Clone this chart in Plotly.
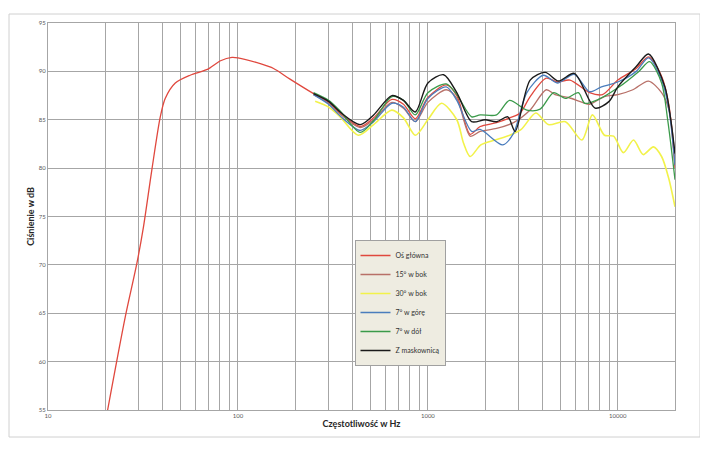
import plotly.graph_objects as go

# ---------------- data ----------------
series_names = ["Oś główna", "15° w bok", "30° w bok", "7° w górę", "7° w dół", "Z maskownicą"]

freq_main = [20.6, 25.5, 29.4, 31.8, 35.2, 39, 41.4, 46.8, 56, 69, 81, 93, 100, 131, 154, 188, 250,
             300, 345, 440, 518, 646, 744, 858, 1000, 1250, 1420, 1670, 1885, 2300, 2700, 3060, 3455,
             4200, 4800, 5600, 7100, 8300, 10000, 12500, 14500, 17000, 18600, 20000]
db_main = [55, 64.6, 70.2, 73.9, 79.8, 85.3, 87.2, 88.8, 89.6, 90.2, 91.1, 91.45, 91.4, 90.8, 90.3, 89.2, 87.7,
           86.8, 85.7, 84.3, 85.2, 87.1, 86.6, 85.1, 87.3, 88.6, 87.5, 83.5, 84.3, 84.7, 85.2, 85.7, 87.4,
           89.3, 88.9, 89.1, 87.8, 87.6, 89.1, 90.3, 91.5, 89.5, 86.4, 80.0]

freq_15 = [250, 300, 345, 440, 518, 646, 744, 858, 1000, 1250, 1420, 1670, 1885, 2300, 2825, 3455,
           4200, 4670, 5500, 6500, 7100, 8500, 10000, 12000, 14500, 17000, 18600, 20000]
db_15 = [87.6, 86.7, 85.6, 84.2, 85.0, 86.8, 86.2, 84.8, 86.8, 88.1, 87.2, 83.3, 83.8, 84.1, 84.7, 86.0,
         88.1, 87.6, 87.3, 86.8, 86.6, 87.4, 87.6, 88.1, 89.0, 87.8, 86.0, 81.0]

freq_30 = [255, 300, 345, 430, 518, 646, 744, 860, 1000, 1180, 1420, 1540, 1670, 1900, 2250, 2700,
           3100, 3700, 4300, 5300, 6470, 7350, 8500, 9500, 10700, 12100, 13600, 15400, 17000, 18500, 20000]
db_30 = [86.9, 86.3, 85.3, 83.4, 84.5, 86.0, 85.2, 83.4, 85.0, 86.7, 85.0, 82.6, 81.2, 82.4, 82.9, 83.4,
         84.0, 85.7, 84.5, 84.8, 82.9, 85.5, 83.4, 83.3, 81.6, 82.9, 81.4, 82.2, 81.2, 79.0, 76.0]

freq_up = [250, 300, 345, 440, 518, 646, 744, 858, 1000, 1250, 1420, 1700, 1885, 2480, 2825, 3320,
           4060, 4800, 5900, 7100, 8200, 10000, 12500, 14500, 17000, 18600, 20000]
db_up = [87.6, 86.6, 85.4, 83.9, 84.8, 86.7, 86.3, 84.8, 87.2, 88.4, 87.0, 83.8, 84.0, 82.4, 83.6, 87.8,
         89.6, 88.8, 89.7, 87.9, 88.4, 88.9, 90.0, 91.4, 89.1, 86.0, 80.3]

freq_down = [250, 300, 345, 440, 518, 646, 744, 858, 1000, 1250, 1420, 1700, 1885, 2300, 2690, 3320,
             3900, 4590, 5300, 6200, 6700, 7900, 10000, 12900, 14700, 17000, 18300, 20000]
db_down = [87.8, 87.0, 85.9, 83.7, 84.9, 87.4, 87.0, 85.5, 87.8, 88.7, 87.6, 85.3, 85.5, 85.5, 87.0, 86.0,
           86.1, 87.8, 87.2, 87.8, 86.7, 87.1, 88.3, 90.0, 91.0, 88.8, 85.0, 78.8]

freq_grill = [250, 300, 345, 440, 518, 646, 744, 858, 1000, 1210, 1420, 1700, 2000, 2300, 2635, 2880,
              3455, 4150, 4870, 5900, 7600, 9000, 10000, 12500, 14500, 17700, 19000, 20000]
db_grill = [87.7, 86.9, 85.8, 84.5, 85.5, 87.5, 87.0, 85.8, 88.8, 89.65, 87.8, 84.8, 85.0, 84.8, 85.3, 83.8,
            89.1, 89.9, 89.0, 89.8, 86.2, 86.9, 88.4, 90.5, 91.8, 88.4, 85.0, 81.5]

series_freqs = [freq_main, freq_15, freq_30, freq_up, freq_down, freq_grill]
series_dbs = [db_main, db_15, db_30, db_up, db_down, db_grill]
series_colors = ["#e0483e", "#b87068", "#f2f24a", "#4a7dbd", "#3a9a4a", "#1a1a1a"]
series_widths = [1.3, 1.3, 1.6, 1.3, 1.3, 1.4]

x_tickvals = [10, 20, 30, 40, 50, 60, 70, 80, 90,
              100, 200, 300, 400, 500, 600, 700, 800, 900,
              1000, 2000, 3000, 4000, 5000, 6000, 7000, 8000, 9000,
              10000, 20000]
x_ticktext = ["10", "", "", "", "", "", "", "", "",
              "100", "", "", "", "", "", "", "", "",
              "1000", "", "", "", "", "", "", "", "",
              "10000", ""]
y_tickvals = [55, 60, 65, 70, 75, 80, 85, 90, 95]

# ---------------- figure ----------------
# page body has an 8px margin, so the figure is offset by 8px in the window
OFF = 8
W, H = 708 - OFF, 468 - OFF
L, T = 48 - OFF, 23 - OFF
pw, ph = 627, 387
R, B = W - L - pw, H - T - ph

fig = go.Figure()
for name, fx, fy, col, lw in zip(series_names, series_freqs, series_dbs, series_colors, series_widths):
    fig.add_trace(go.Scatter(
        x=fx, y=fy, name=name, mode="lines",
        line=dict(color=col, width=lw, shape="spline", smoothing=0.8),
    ))

def px_x(p):
    return (p - OFF - L) / pw

def px_y(p):
    return (H - B - (p - OFF)) / ph

grid_col = "#a6a6a6"
font_fam = "Lato, 'Open Sans', sans-serif"

fig.update_layout(
    width=W, height=H,
    margin=dict(l=L, r=R, t=T, b=B, autoexpand=False),
    paper_bgcolor="white", plot_bgcolor="white",
    font=dict(family=font_fam, color="#404040"),
    showlegend=True,
    legend=dict(
        x=px_x(400), xanchor="center", y=px_y(240), yanchor="top",
        bgcolor="#eeece1", bordercolor="#a0a0a0", borderwidth=1,
        font=dict(size=7, color="#333333", family=font_fam),
        itemwidth=30, tracegroupgap=0,
    ),
    xaxis=dict(
        type="log", range=[1, 4.30103],
        tickmode="array", tickvals=x_tickvals, ticktext=x_ticktext,
        showgrid=True, gridcolor=grid_col, gridwidth=1,
        showline=True, linecolor=grid_col, mirror=True,
        ticks="", tickfont=dict(size=6, color="#595959"),
        zeroline=False,
        title=dict(text="<b>Częstotliwość w Hz</b>", font=dict(size=9, color="#262626"), standoff=2),
    ),
    yaxis=dict(
        range=[55, 95], tickmode="array", tickvals=y_tickvals,
        showgrid=True, gridcolor=grid_col, gridwidth=1,
        showline=True, linecolor=grid_col, mirror=True,
        ticks="", tickfont=dict(size=6, color="#595959"),
        zeroline=False,
        title=dict(text="<b>Ciśnienie w dB</b>", font=dict(size=9, color="#262626"), standoff=2),
    ),
    shapes=[dict(
        type="rect", xref="paper", yref="paper", layer="below",
        x0=px_x(9), x1=px_x(700), y0=px_y(437), y1=px_y(14),
        line=dict(color="#d0d0d0", width=1), fillcolor="rgba(0,0,0,0)",
    )],
)

fig.write_html("out.html")
